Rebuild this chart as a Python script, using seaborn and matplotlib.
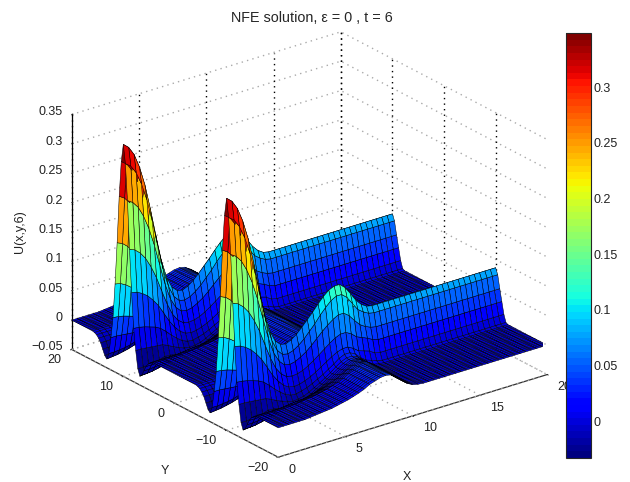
import matplotlib
matplotlib.use("Agg")
import matplotlib.pyplot as plt
import seaborn as sns
import numpy as np
from matplotlib.cm import ScalarMappable
from matplotlib.colors import Normalize
from mpl_toolkits.mplot3d import proj3d

sns.set_theme(style="white")
plt.rcParams["font.family"] = ["Liberation Sans", "DejaVu Sans"]

# x stations 0, 0.4 ... 10.8 are tabulated, from 11.2 on the ridges are flat
# each row is the height at a given distance (0, 0.4, 0.8 ...) from the ridge line y = +-10
crest = [.345, .337, .322, .298, .265, .222, .175, .130, .097, .077, .068, .066, .070, .077,
         .086, .096, .106, .117, .127, .135, .139, .139, .131, .118, .104, .094, .088, .086]
off_04 = [.314, .307, .293, .271, .241, .202, .158, .115, .083, .063, .053, .051, .054, .060,
          .068, .078, .088, .100, .110, .119, .124, .124, .116, .103, .090, .083, .078, .076]
off_08 = [.253, .247, .236, .218, .194, .163, .127, .091, .063, .046, .037, .035, .037, .042,
          .048, .056, .065, .074, .082, .089, .094, .094, .087, .076, .066, .060, .056, .054]
off_12 = [.172, .168, .160, .148, .131, .110, .084, .059, .039, .026, .019, .017, .018, .021,
          .026, .032, .039, .046, .053, .059, .063, .063, .058, .050, .046, .042, .037, .034]
off_16 = [.100, .098, .093, .086, .076, .064, .048, .032, .019, .009, .003, .001, .002, .005,
          .009, .014, .020, .026, .032, .037, .040, .040, .035, .028, .025, .022, .016, .014]
off_20 = [.041, .040, .038, .035, .032, .027, .019, .010, .002, -.005, -.009, -.010, -.008, -.005,
          -.001, .004, .009, .015, .021, .028, .032, .032, .027, .018, .011, .008, .004, .002]
off_24 = [.005, .005, .004, .003, .002, .001, -.003, -.008, -.012, -.016, -.018, -.017, -.015, -.011,
          -.006, -.001, .005, .011, .018, .024, .028, .028, .024, .016, .008, .003, .001, 0]
off_28 = [-.024, -.024, -.023, -.022, -.020, -.017, -.018, -.020, -.021, -.021, -.021, -.019, -.016, -.012,
          -.006, -.001, .005, .011, .017, .023, .027, .027, .023, .015, .008, .003, .001, 0]
off_32 = [-.035, -.034, -.033, -.031, -.029, -.026, -.024, -.022, -.021, -.020, -.019, -.017, -.014, -.010,
          -.005, 0, .006, .012, .018, .023, .027, .027, .023, .015, .008, .003, .001, 0]
off_36 = [-.031, -.031, -.030, -.028, -.026, -.024, -.021, -.019, -.017, -.015, -.014, -.012, -.009, -.006,
          -.002, .003, .008, .013, .019, .024, .028, .028, .024, .015, .008, .003, .001, 0]
off_40 = [-.022, -.022, -.021, -.020, -.019, -.018, -.016, -.014, -.012, -.010, -.009, -.007, -.005, -.002,
          .001, .005, .010, .015, .020, .025, .029, .029, .024, .016, .008, .003, .001, 0]
off_44 = [-.013, -.013, -.013, -.012, -.012, -.011, -.010, -.009, -.007, -.006, -.005, -.003, -.001, .001,
          .004, .008, .012, .017, .022, .027, .030, .029, .024, .016, .008, .003, .001, 0]
off_48 = [-.007, -.007, -.007, -.007, -.006, -.006, -.005, -.004, -.003, -.002, -.002, 0, .002, .004,
          .007, .011, .015, .020, .025, .029, .031, .030, .025, .016, .008, .003, .001, 0]
off_52 = [-.003, -.003, -.003, -.003, -.003, -.003, -.002, -.001, 0, 0, .001, .002, .004, .006,
          .009, .013, .017, .022, .026, .030, .032, .031, .025, .016, .008, .003, .001, 0]
off_56 = [-.001, -.001, -.001, -.001, -.001, -.001, 0, 0, .001, .002, .003, .004, .006, .008,
          .011, .015, .019, .024, .028, .031, .033, .031, .025, .016, .008, .003, .001, 0]
far_row = [0, 0, 0, 0, 0, 0, .001, .002, .003, .004, .005, .007, .009, .011,
           .014, .017, .021, .026, .029, .032, .033, .031, .025, .016, .008, .003, .001, 0]

profile_rows = [crest, off_04, off_08, off_12, off_16, off_20, off_24, off_28,
                off_32, off_36, off_40, off_44, off_48, off_52, off_56, far_row]
flat_heights = [.086, .076, .054, .034, .014, .002, 0, 0, 0, 0, 0, 0, 0, 0, 0, 0]

x_ticks = [0, 5, 10, 15, 20]
y_ticks = [-20, -10, 0, 10, 20]
y_labels = ["\u221220", "\u221210", "0", "10", "20"]
z_ticks = [-.05, 0, .05, .1, .15, .2, .25, .3, .35]
z_labels = ["\u22120.05", "0", "0.05", "0.1", "0.15", "0.2", "0.25", "0.3", "0.35"]
bar_ticks = [0, .05, .1, .15, .2, .25, .3]
bar_labels = ["0", "0.05", "0.1", "0.15", "0.2", "0.25", "0.3"]

x = np.arange(51) * 0.4
y = np.arange(101) * 0.4 - 20
table = np.array([row + [flat] * 23 for row, flat in zip(profile_rows, flat_heights)])
row_index = np.minimum(np.rint(np.abs(np.abs(y) - 10) / 0.4).astype(int), 15)
U = table[row_index]
X, Y = np.meshgrid(x, y)

jet64 = plt.get_cmap("jet", 64)
norm = Normalize(vmin=-.033, vmax=.3485)

fig = plt.figure(figsize=(6.3, 4.82), dpi=100)
ax = fig.add_axes([63 / 630, -9 / 482, 480 / 630, 480 / 482], projection="3d",
                  proj_type="ortho", computed_zorder=False)
ax.view_init(elev=23.6, azim=-127.5)
ax.set_box_aspect((1, 1, 0.756), zoom=1.10)
ax.set_xlim(0, 20)
ax.set_ylim(-20, 20)
ax.set_zlim(-.05, .35)

dots = (0, (1, 3))
for axis in [ax.xaxis, ax.yaxis, ax.zaxis]:
    axis.set_pane_color((1, 1, 1, 1))
    axis.pane.set_edgecolor("none")
    axis.line.set_color("#333333")
    axis.line.set_linewidth(0.9)
    axis._axinfo["tick"].update(inward_factor=0.06, outward_factor=0.0, linewidth={True: 0.7, False: 0.5})
ax.zaxis.line.set_color("black")
ax.zaxis._axinfo["tick"].update(inward_factor=0.0, outward_factor=0.06)
ax.xaxis._axinfo["grid"].update(color=(0, 0, 0, 0), linewidth=0)
ax.yaxis._axinfo["grid"].update(color=(0, 0, 0, 0), linewidth=0)
ax.zaxis._axinfo["grid"].update(color="#aaaaaa", linewidth=1.0, linestyle=dots)

# matlab style grid: black dots going up the walls, grey dots on the floor
for t in x_ticks:
    ax.plot([t, t], [20, 20], [-.05, .35], color="black", lw=1.0, ls=dots, zorder=1)
    ax.plot([t, t], [-20, 20], [-.05, -.05], color="#aaaaaa", lw=1.0, ls=dots, zorder=1)
for t in y_ticks:
    ax.plot([20, 20], [t, t], [-.05, .35], color="black", lw=1.0, ls=dots, zorder=1)
    ax.plot([0, 20], [t, t], [-.05, -.05], color="#aaaaaa", lw=1.0, ls=dots, zorder=1)

# flat shading like matlab, each cell takes the colour of its lower index corner
ax.plot_surface(X, Y, U, rstride=1, cstride=1, facecolors=jet64(norm(U)),
                edgecolor="black", linewidth=0.35, antialiased=True, shade=False, zorder=3)

ax.set_xticks(x_ticks)
ax.set_yticks(y_ticks)
ax.set_zticks(z_ticks)
ax.set_xticklabels([])
ax.set_yticklabels([])
ax.set_zticklabels([])


def tick_label(text, px, py, pz, dx, dy, ha):
    # mplot3d has no way to nudge tick labels, so place them from the projected tick
    sx, sy, _ = proj3d.proj_transform(px, py, pz, ax.get_proj())
    ax.annotate(text, xy=(sx, sy), xycoords="data", xytext=(dx, dy), textcoords="offset pixels",
                ha=ha, va="center", fontsize=9, color="#222222", annotation_clip=False)


for t in x_ticks:
    tick_label(str(t), t, -20, -.05, 10, -12.5, "left")
for t, label in zip(y_ticks, y_labels):
    tick_label(label, 0, t, -.05, -10, -10.5, "right")
for t, label in zip(z_ticks, z_labels):
    tick_label(label, 0, 20, t, -9, 2, "right")

cax = fig.add_axes([566 / 630, 24 / 482, 25 / 630, 425 / 482])
cbar = fig.colorbar(ScalarMappable(norm=norm, cmap=jet64), cax=cax)
cbar.set_ticks(bar_ticks)
cbar.set_ticklabels(bar_labels)
cax.tick_params(axis="y", direction="in", left=True, right=True, length=4, width=0.7,
                labelsize=9, pad=2, colors="black", labelcolor="#222222")
cbar.outline.set_linewidth(0.8)

fig.text(312 / 630, 1 - 18 / 482, "NFE solution, \u03b5 = 0 , t = 6", ha="center", va="center", fontsize=10.4)
fig.text(407 / 630, 1 - 477 / 482, "X", ha="center", va="center", fontsize=9, color="#222222")
fig.text(165 / 630, 1 - 471 / 482, "Y", ha="center", va="center", fontsize=9, color="#222222")
fig.text(20 / 630, 1 - 232 / 482, "U(x,y,6)", ha="center", va="center", rotation=90, fontsize=9, color="#222222")

fig.savefig("out.png", dpi=100)
